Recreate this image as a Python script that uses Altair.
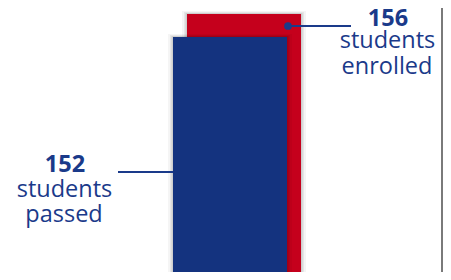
import altair as alt
import pandas as pd

categories = ["enrolled", "passed"]
values = [156, 152]
colors = ["#C5001C", "#14337F"]
label_numbers = ["156", "152"]
label_lines = [["students", "enrolled"], ["students", "passed"]]

df = pd.DataFrame({"cat": categories, "value": values, "color": colors})

W, H = 435, 264
xscale = alt.Scale(type="point", domain=["passed", "enrolled"], range=[222, 236], padding=0)
yscale = alt.Scale(domain=[111.13, 157.04], zero=False, nice=False)

def bar_layer(cat):
    d = df[df.cat == cat]
    base = alt.Chart(d)
    enc = dict(
        x=alt.X("cat:N", scale=xscale, axis=None),
        y=alt.Y("value:Q", scale=yscale, axis=None),
        y2=alt.datum(0),
    )
    sh1 = base.mark_bar(width=124, color="#000000", opacity=0.04, clip=True, yOffset=-3).encode(**enc)
    sh2 = base.mark_bar(width=120, color="#000000", opacity=0.06, clip=True, yOffset=-2).encode(**enc)
    sh3 = base.mark_bar(width=117, color="#000000", opacity=0.10, clip=True, yOffset=-1).encode(**enc)
    main = base.mark_bar(width=114, clip=True).encode(
        color=alt.Color("color:N", scale=None), **enc
    )
    return sh1 + sh2 + sh3 + main

blue = "#1A3A8A"
font = "Open Sans"

ann_line_pass = alt.Chart(pd.DataFrame({"a": [0]})).mark_rule(color=blue, strokeWidth=2).encode(
    x=alt.value(110), x2=alt.value(165), y=alt.value(164))
ann_line_enr = alt.Chart(pd.DataFrame({"a": [0]})).mark_rule(color=blue, strokeWidth=2).encode(
    x=alt.value(280), x2=alt.value(343), y=alt.value(18))
ann_dot = alt.Chart(pd.DataFrame({"a": [0]})).mark_circle(color=blue, opacity=1, size=60).encode(
    x=alt.value(280), y=alt.value(18))

def text_at(txt, x, y, bold=False):
    return alt.Chart(pd.DataFrame({"t": [txt]})).mark_text(
        font=font, fontSize=23.5, fontWeight="bold" if bold else "normal",
        color=blue, align="center", baseline="alphabetic").encode(
        text="t:N", x=alt.value(x), y=alt.value(y))

texts = (
    text_at(label_numbers[0], 380, 18, True)
    + text_at(label_lines[0][0], 379.5, 40)
    + text_at(label_lines[0][1], 379, 66)
    + text_at(label_numbers[1], 57, 164, True)
    + text_at(label_lines[1][0], 56.5, 189)
    + text_at(label_lines[1][1], 56, 214)
)

border = alt.Chart(pd.DataFrame({"a": [0]})).mark_rule(color="#7A7A7A", strokeWidth=2).encode(
    x=alt.value(434), y=alt.value(0), y2=alt.value(H))

chart = alt.layer(
    bar_layer("enrolled"), bar_layer("passed"),
    ann_line_pass, ann_line_enr, ann_dot, texts, border
).properties(width=W, height=H, padding=0, autosize=alt.AutoSizeParams(type="none")).configure_view(stroke=None)

chart.save("out.html", embed_options={"renderer": "svg", "actions": False})
